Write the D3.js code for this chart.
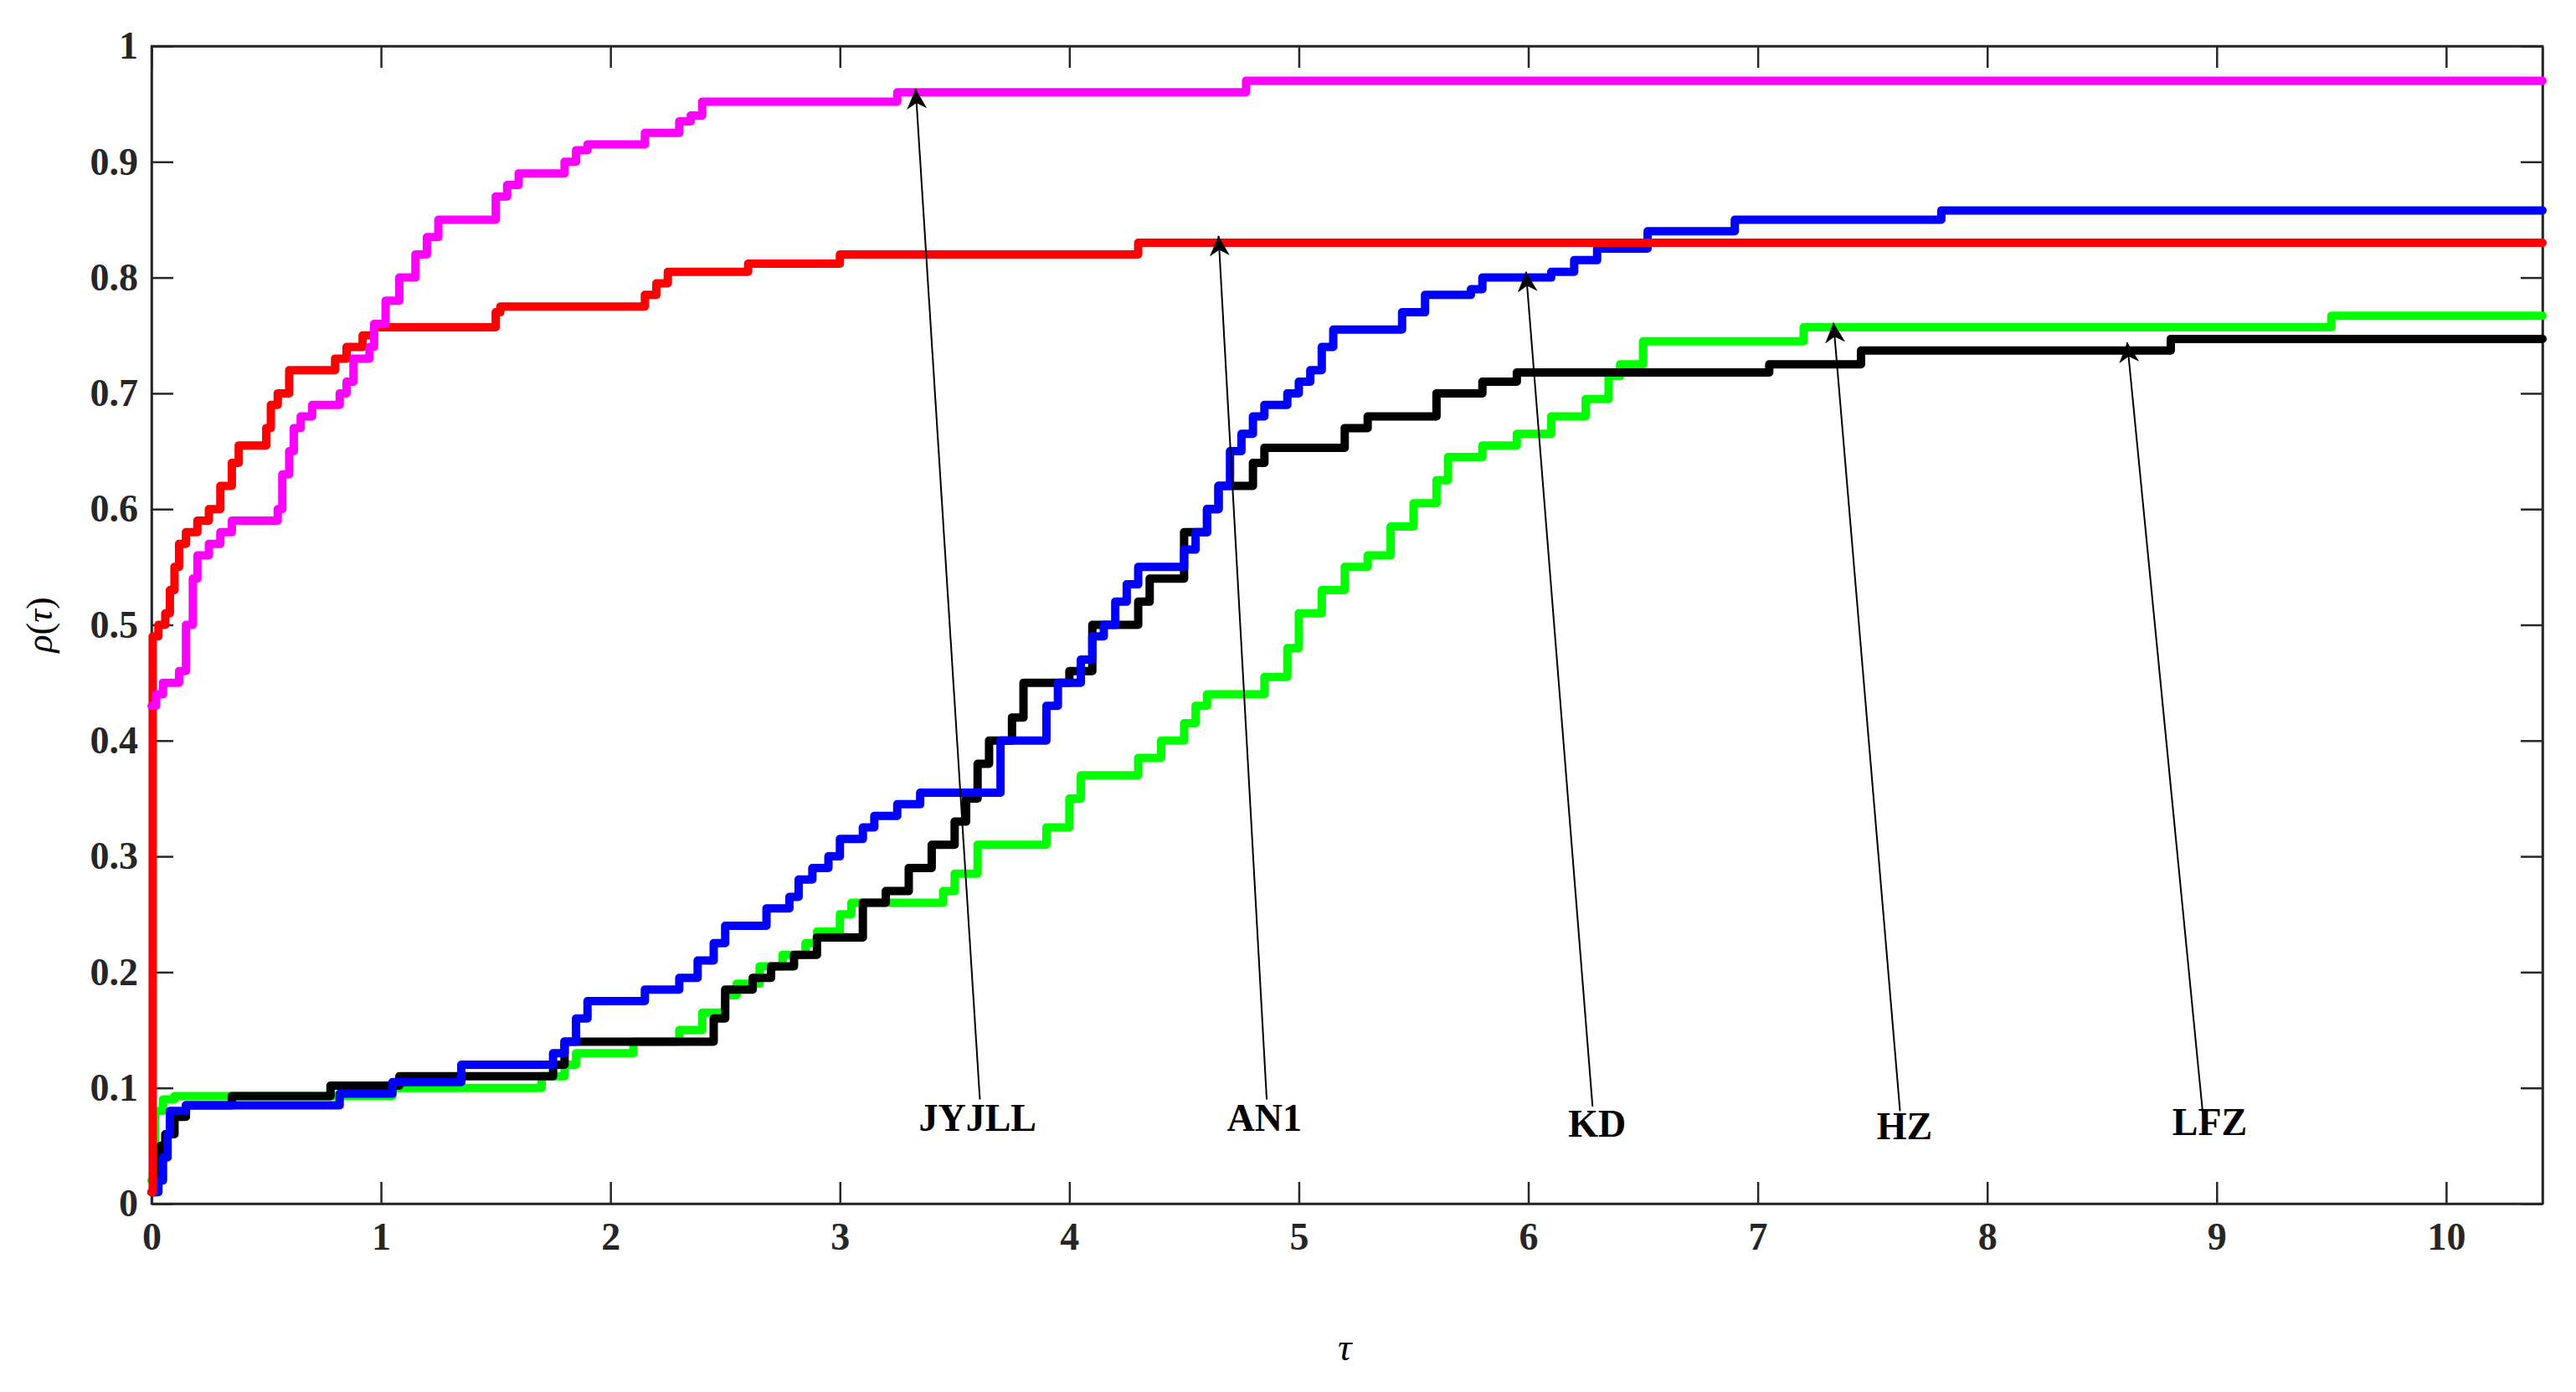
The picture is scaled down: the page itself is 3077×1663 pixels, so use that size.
<!DOCTYPE html>
<head>
  <meta charset="utf-8">
  <style>
    body { margin: 0; background: #fff; }
    .axis text { font-family: 'Liberation Serif', serif; font-weight: bold; font-size: 46px; fill: #262626; }
    .axis path, .axis line { stroke: #262626; stroke-width: 2.5; }
  </style>
</head>
<body>
  <script src="https://cdn.jsdelivr.net/npm/d3@7"></script>
  <script>
    const width = 3077, height = 1663;
    const margin = {top: 55, right: 40, bottom: 225, left: 181};
    const innerWidth = width - margin.left - margin.right;
    const innerHeight = height - margin.top - margin.bottom;
    const tauMax = 10.42;

    const xTicks = [0, 1, 2, 3, 4, 5, 6, 7, 8, 9, 10];
    const yTicks = [0, 0.1, 0.2, 0.3, 0.4, 0.5, 0.6, 0.7, 0.8, 0.9, 1];

    // step curves: [tau, rho]
    const redData = [[0,0.01],[0.005,0.49],[0.03,0.5],[0.06,0.51],[0.08,0.53],[0.1,0.55],[0.12,0.57],[0.15,0.58],[0.2,0.59],[0.25,0.6],[0.3,0.62],[0.35,0.64],[0.38,0.655],[0.45,0.655],[0.5,0.67],[0.52,0.69],[0.55,0.7],[0.6,0.72],[0.77,0.72],[0.8,0.73],[0.85,0.74],[0.92,0.75],[0.97,0.757],[1.47,0.757],[1.5,0.77],[1.52,0.775],[2.1,0.775],[2.15,0.785],[2.2,0.795],[2.25,0.805],[2.55,0.805],[2.6,0.812],[2.95,0.812],[3.0,0.82],[4.28,0.82],[4.3,0.83],[tauMax,0.83]];
    const magentaData = [[0,0.43],[0.02,0.44],[0.05,0.45],[0.12,0.46],[0.15,0.5],[0.18,0.54],[0.2,0.56],[0.25,0.57],[0.3,0.58],[0.35,0.59],[0.55,0.6],[0.57,0.63],[0.6,0.65],[0.62,0.67],[0.65,0.68],[0.7,0.69],[0.82,0.7],[0.85,0.71],[0.88,0.73],[0.95,0.74],[0.97,0.76],[1.02,0.78],[1.08,0.8],[1.15,0.82],[1.2,0.835],[1.25,0.85],[1.47,0.85],[1.5,0.87],[1.55,0.88],[1.6,0.89],[1.75,0.89],[1.8,0.9],[1.85,0.91],[1.9,0.915],[2.13,0.915],[2.15,0.925],[2.3,0.935],[2.35,0.94],[2.4,0.952],[3.2,0.952],[3.25,0.96],[4.75,0.96],[4.77,0.97],[tauMax,0.97]];
    const blueData = [[0,0.01],[0.03,0.02],[0.05,0.04],[0.07,0.06],[0.08,0.08],[0.15,0.085],[0.8,0.085],[0.82,0.095],[1.03,0.095],[1.05,0.105],[1.33,0.105],[1.35,0.12],[1.7,0.12],[1.75,0.13],[1.8,0.14],[1.85,0.16],[1.9,0.175],[2.08,0.175],[2.15,0.185],[2.3,0.195],[2.38,0.21],[2.45,0.225],[2.5,0.24],[2.63,0.24],[2.68,0.255],[2.78,0.265],[2.82,0.28],[2.88,0.29],[2.95,0.3],[3.0,0.315],[3.1,0.325],[3.15,0.335],[3.25,0.345],[3.35,0.355],[3.65,0.355],[3.7,0.4],[3.85,0.4],[3.9,0.43],[3.95,0.45],[4.05,0.47],[4.1,0.49],[4.15,0.5],[4.2,0.52],[4.25,0.535],[4.3,0.55],[4.45,0.55],[4.5,0.565],[4.55,0.58],[4.6,0.6],[4.65,0.62],[4.7,0.65],[4.75,0.665],[4.8,0.68],[4.85,0.69],[4.95,0.7],[5.0,0.71],[5.05,0.72],[5.1,0.74],[5.15,0.755],[5.4,0.755],[5.45,0.77],[5.55,0.785],[5.75,0.79],[5.8,0.8],[6.1,0.805],[6.2,0.815],[6.3,0.825],[6.52,0.84],[6.9,0.85],[7.8,0.858],[tauMax,0.858]];
    const blackData = [[0,0.01],[0.02,0.03],[0.04,0.05],[0.06,0.06],[0.1,0.075],[0.15,0.085],[0.35,0.093],[0.78,0.102],[1.08,0.11],[1.75,0.12],[1.8,0.14],[2.45,0.16],[2.5,0.185],[2.62,0.195],[2.7,0.205],[2.8,0.215],[2.9,0.23],[3.1,0.26],[3.2,0.27],[3.3,0.29],[3.4,0.31],[3.5,0.33],[3.55,0.35],[3.6,0.38],[3.65,0.4],[3.75,0.42],[3.8,0.45],[4.0,0.46],[4.1,0.5],[4.3,0.52],[4.35,0.54],[4.5,0.58],[4.6,0.6],[4.65,0.62],[4.8,0.64],[4.85,0.653],[5.2,0.67],[5.3,0.68],[5.6,0.7],[5.8,0.71],[5.95,0.718],[7.05,0.725],[7.45,0.737],[8.8,0.747],[tauMax,0.747]];
    const greenData = [[0,0.02],[0.01,0.05],[0.015,0.08],[0.05,0.09],[0.1,0.093],[0.95,0.093],[1.05,0.1],[1.7,0.11],[1.8,0.12],[1.85,0.13],[2.1,0.14],[2.3,0.15],[2.4,0.165],[2.5,0.18],[2.55,0.19],[2.65,0.205],[2.75,0.215],[2.85,0.225],[2.9,0.235],[3.0,0.25],[3.05,0.26],[3.45,0.27],[3.5,0.285],[3.6,0.31],[3.9,0.325],[4.0,0.35],[4.05,0.37],[4.3,0.385],[4.4,0.4],[4.5,0.415],[4.55,0.43],[4.6,0.44],[4.85,0.455],[4.95,0.48],[5.0,0.51],[5.1,0.53],[5.2,0.55],[5.3,0.56],[5.4,0.585],[5.5,0.605],[5.6,0.625],[5.65,0.645],[5.8,0.655],[5.95,0.665],[6.1,0.68],[6.25,0.695],[6.35,0.715],[6.4,0.725],[6.5,0.745],[7.2,0.757],[9.5,0.767],[tauMax,0.767]];

    const seriesNames = ['HZ', 'LFZ', 'KD', 'AN1', 'JYJLL'];
    const seriesColors = ['#00ff00', '#000000', '#0000ff', '#ff0000', '#ff00ff'];
    const seriesData = [greenData, blackData, blueData, redData, magentaData];

    // annotations: label, tail [tau, rho], arrow tip [tau, rho]
    const annLabels = ['JYJLL', 'AN1', 'KD', 'HZ', 'LFZ'];
    const annTail = [[3.61, 0.09], [4.86, 0.09], [6.28, 0.084], [7.62, 0.08], [8.94, 0.077]];
    const annTip = [[3.33, 0.963], [4.65, 0.836], [5.99, 0.805], [7.33, 0.761], [8.61, 0.744]];
    const annText = [[3.6, 0.063], [4.85, 0.063], [6.3, 0.058], [7.64, 0.056], [8.97, 0.059]];

    const svg = d3.select("body").append("svg")
      .attr("width", width).attr("height", height);
    const g = svg.append("g").attr("transform", `translate(${margin.left},${margin.top})`);

    const x = d3.scaleLinear().domain([0, tauMax]).range([0, innerWidth]);
    const y = d3.scaleLinear().domain([0, 1]).range([innerHeight, 0]);

    g.append("rect").attr("width", innerWidth).attr("height", innerHeight)
      .attr("fill", "none").attr("stroke", "#262626").attr("stroke-width", 2.5);

    g.append("g").attr("class", "axis").attr("transform", `translate(0,${innerHeight})`)
      .call(d3.axisBottom(x).tickValues(xTicks).tickFormat(d3.format("d")).tickSizeInner(-26).tickSizeOuter(0).tickPadding(22));
    g.append("g").attr("class", "axis")
      .call(d3.axisTop(x).tickValues(xTicks).tickFormat("").tickSizeInner(-26).tickSizeOuter(0));
    g.append("g").attr("class", "axis")
      .call(d3.axisLeft(y).tickValues(yTicks).tickFormat(d => d === 0 || d === 1 ? d : d3.format(".1f")(d)).tickSizeInner(-26).tickSizeOuter(0).tickPadding(16));
    g.append("g").attr("class", "axis").attr("transform", `translate(${innerWidth},0)`)
      .call(d3.axisRight(y).tickValues(yTicks).tickFormat("").tickSizeInner(-26).tickSizeOuter(0));

    const line = d3.line().x(d => x(d[0])).y(d => y(d[1])).curve(d3.curveStepAfter);
    seriesData.forEach((data, i) => {
      g.append("path").datum(data).attr("d", line)
        .attr("fill", "none").attr("stroke", seriesColors[i])
        .attr("stroke-width", 10).attr("stroke-linejoin", "round").attr("stroke-linecap", "round");
    });

    svg.append("defs").append("marker").attr("id", "arrow")
      .attr("viewBox", "0 0 10 10").attr("refX", 10).attr("refY", 5)
      .attr("markerWidth", 24).attr("markerHeight", 24).attr("markerUnits", "userSpaceOnUse")
      .attr("orient", "auto")
      .append("path").attr("d", "M0,0 L10,5 L0,10 L3,5 Z").attr("fill", "#000");

    annLabels.forEach((lab, i) => {
      g.append("line")
        .attr("x1", x(annTail[i][0])).attr("y1", y(annTail[i][1]))
        .attr("x2", x(annTip[i][0])).attr("y2", y(annTip[i][1]))
        .attr("stroke", "#000").attr("stroke-width", 2).attr("marker-end", "url(#arrow)");
      g.append("text").attr("x", x(annText[i][0])).attr("y", y(annText[i][1]))
        .attr("text-anchor", "middle").attr("font-family", "Liberation Serif, serif")
        .attr("font-weight", "bold").attr("font-size", 46).text(lab);
    });

    svg.append("text").attr("transform", `translate(62,${margin.top + innerHeight / 2}) rotate(-90)`)
      .attr("text-anchor", "middle").attr("font-family", "Liberation Serif, serif")
      .attr("font-size", 44).html('<tspan font-style="italic">ρ</tspan>(<tspan font-style="italic">τ</tspan>)');
    svg.append("text").attr("x", margin.left + x(5.2)).attr("y", 1625)
      .attr("text-anchor", "middle").attr("font-family", "Liberation Serif, serif")
      .attr("font-style", "italic").attr("font-size", 46).text("τ");
  </script>
</body>
